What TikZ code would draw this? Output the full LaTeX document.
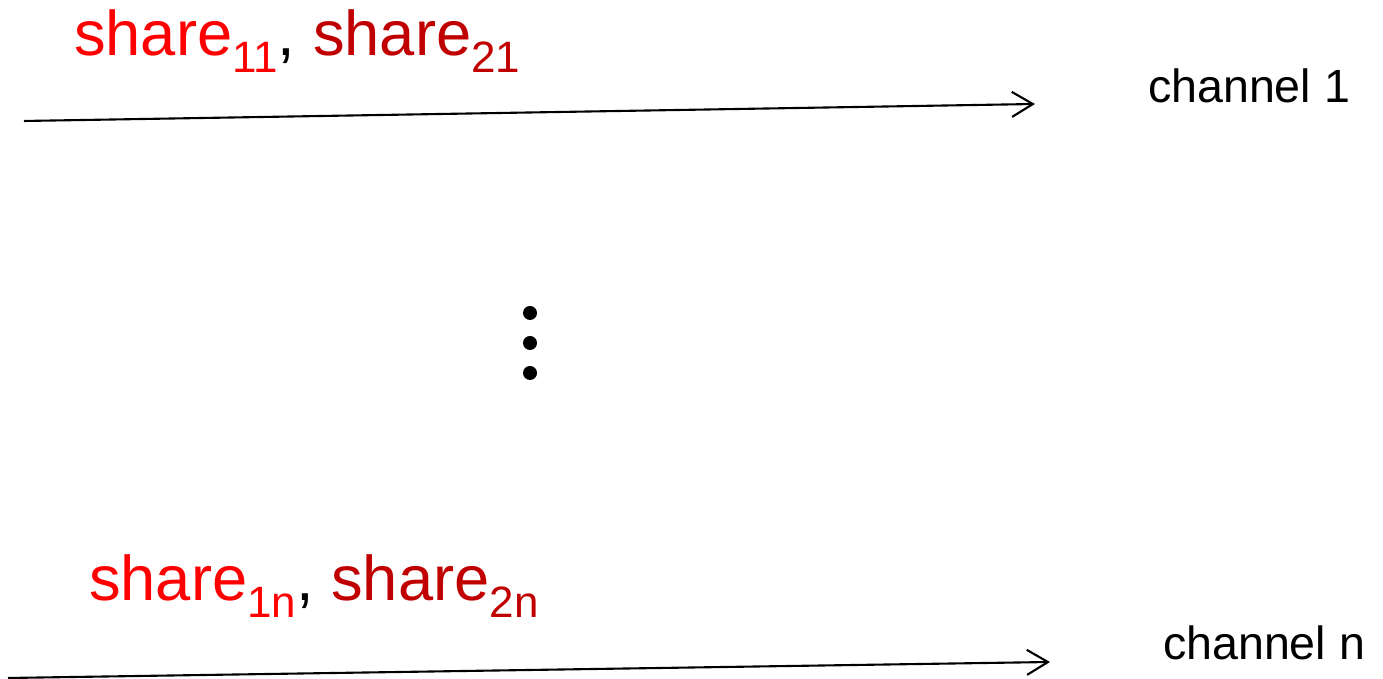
\documentclass[tikz,border=0pt]{standalone}
\usepackage{fontspec}
\setmainfont{Liberation Sans}
\usetikzlibrary{arrows.meta}
\definecolor{shareone}{RGB}{255,0,0}
\definecolor{sharetwo}{RGB}{192,0,0}
\newcommand{\shsub}[1]{\raisebox{-9.5pt}{\fontsize{25}{25}\selectfont #1}}
\begin{document}
\begin{tikzpicture}[>={Straight Barb[length=4.2mm,width=5mm]}, line width=1.2pt,
  share/.style={anchor=base west, inner sep=0pt, font=\fontsize{36}{36}\selectfont},
  chan/.style={anchor=base west, inner sep=0pt, font=\fontsize{26.5}{26.5}\selectfont}]
\useasboundingbox (0,0) rectangle (27.66,13.58);
\coordinate (S1) at (.48,11.16);
\coordinate (E1) at (20.7,11.5);
\coordinate (Sn) at (.16,.02);
\coordinate (En) at (21,.34);
\draw[->](S1)--(E1);
\draw[->](Sn)--(En);
\node[share] (top) at (1.46,12.46) {\textcolor{shareone}{share\shsub{11}}, \textcolor{sharetwo}{share\shsub{21}}};
\node[share] (bot) at (1.76,1.56) {\textcolor{shareone}{share\shsub{1n}}, \textcolor{sharetwo}{share\shsub{2n}}};
\node[chan] (ch1) at (22.94,11.52) {channel 1};
\node[chan] (chn) at (23.24,.38) {channel n};
% vertical dots between the channels
\foreach \y in {7.32,6.72,6.12}
  \fill (10.6,\y) circle (.14);
\end{tikzpicture}
\end{document}
